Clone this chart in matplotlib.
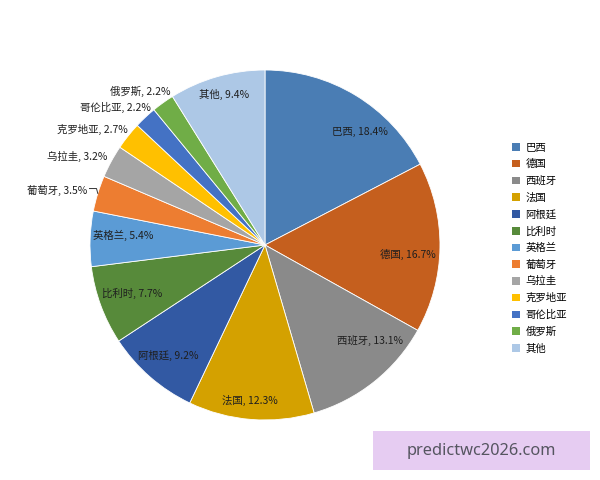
import matplotlib
matplotlib.use("Agg")
import matplotlib.pyplot as plt
from matplotlib.patches import Patch, Rectangle
import numpy as np

plt.rcParams['font.family'] = ['Noto Sans CJK SC', 'DejaVu Sans']

categories = ['巴西', '德国', '西班牙', '法国', '阿根廷', '比利时', '英格兰',
              '葡萄牙', '乌拉圭', '克罗地亚', '哥伦比亚', '俄罗斯', '其他']
values = [18.4, 16.7, 13.1, 12.3, 9.2, 7.7, 5.4, 3.5, 3.2, 2.7, 2.2, 2.2, 9.4]
colors = ['#4A7DB4', '#C55F1E', '#8A8A8A', '#D4A100', '#3259A3', '#578A3A',
          '#5B9BD5', '#ED7D31', '#A5A5A5', '#FFC000', '#4472C4', '#70AD47', '#ADC8E6']
watermark = 'predictwc2026.com'

# label layout: radius factor (pie radii), angle offset from wedge middle (deg), outside flag
label_r = [0.845, 0.82, 0.81, 0.89, 0.84, 0.81, 0.81, 1.06, 1.03, 1.026, 1.02, 1.03, 0.89]
label_dang = [-8.7, -3, 9, -1, 0, 0, -2, 0, -0.8, -1.7, -3.3, -4, -0.7]
outside = [False] * 7 + [True] * 5 + [False]

fig = plt.figure(figsize=(6, 4.8), dpi=100)
ax = fig.add_axes([0.150, 0.125, 0.5833, 0.7292])
wedges, _ = ax.pie(values, colors=colors, startangle=90, counterclock=False,
                   wedgeprops=dict(edgecolor='white', linewidth=0.6))
ax.set_xlim(-1, 1)
ax.set_ylim(-1, 1)
ax.set_aspect('equal')

fs = 7.5
tc = '#1f1f1f'
for i, w in enumerate(wedges):
    midd = (w.theta1 + w.theta2) / 2
    ang = np.deg2rad(midd + label_dang[i])
    r = label_r[i]
    x, y = r * np.cos(ang), r * np.sin(ang)
    txt = f'{categories[i]}, {values[i]}%'
    ax.text(x, y, txt, ha='right' if outside[i] else 'center', va='center',
            fontsize=fs, color=tc)
    if categories[i] == '葡萄牙':
        m = np.deg2rad(midd)
        ex, ey = np.cos(m), np.sin(m)
        ax.plot([x + 0.01, x + 0.05, ex], [y + 0.01, y + 0.01, ey],
                color='#333333', lw=0.7, clip_on=False)

handles = [Patch(facecolor=c, edgecolor='none') for c in colors]
fig.legend(handles, categories, loc='upper left', bbox_to_anchor=(0.853, 0.703),
           frameon=False, fontsize=fs, handlelength=0.75, handleheight=0.75,
           handletextpad=0.55, labelspacing=0.63, borderpad=0, borderaxespad=0)

fig.patches.append(Rectangle((373 / 600, 1 - 470 / 480), 217 / 600, 39 / 480,
                             transform=fig.transFigure, facecolor='#E6CCF2',
                             edgecolor='none', zorder=5))
fig.text(481 / 600, 1 - 451 / 480, watermark, ha='center', va='center',
         fontsize=11.8, color='#555560', family=['Noto Sans', 'DejaVu Sans'], zorder=6)

fig.savefig('out.png', dpi=100, facecolor='white')
